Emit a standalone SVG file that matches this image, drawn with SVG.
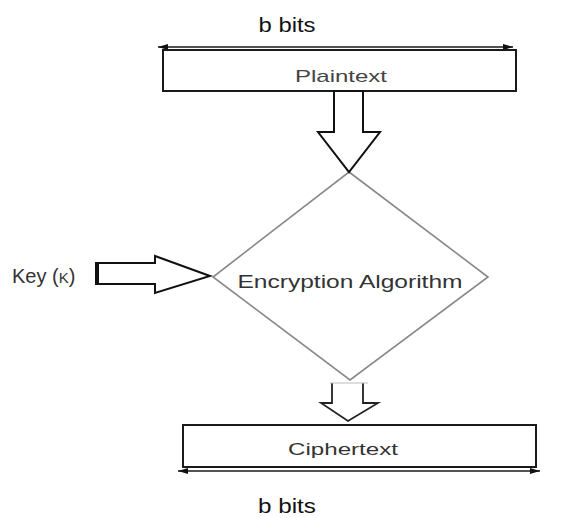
<svg xmlns="http://www.w3.org/2000/svg" width="563" height="518" viewBox="0 0 563 518">
  <style>
    .lbl { font-family: "Liberation Sans", Arial, sans-serif; }
    .box { fill: #fff; stroke: #1a1a1a; stroke-width: 2; }
    .dim { stroke: #1a1a1a; stroke-width: 1.6; fill: none; }
    .fat { fill: #fff; stroke: #111; stroke-width: 2; stroke-linejoin: miter; }
  </style>
  <defs>
    <marker id="tip" viewBox="0 0 10 6" refX="10" refY="3" markerWidth="10" markerHeight="6" markerUnits="userSpaceOnUse" orient="auto-start-reverse">
      <path d="M0,0 L10,3 L0,6 Z" fill="#111"/>
    </marker>
  </defs>
  <rect width="563" height="518" fill="#fff"/>

  <!-- width dimensions -->
  <g id="width-top">
    <text class="lbl" x="287" y="32" font-size="21" fill="#111" text-anchor="middle" textLength="57" lengthAdjust="spacingAndGlyphs">b bits</text>
    <line class="dim" x1="158" y1="47" x2="513" y2="47" marker-start="url(#tip)" marker-end="url(#tip)"/>
  </g>

  <g id="plaintext">
    <rect class="box" x="163" y="50" width="353" height="41"/>
    <text class="lbl" x="341" y="82" font-size="17" fill="#444" text-anchor="middle" textLength="92" lengthAdjust="spacingAndGlyphs">Plaintext</text>
  </g>

  <g id="algorithm">
    <polygon points="349,172 488,277 350,380 213,277" fill="#fff" stroke="#888" stroke-width="1.6"/>
    <text class="lbl" x="350" y="288" font-size="18" fill="#333" text-anchor="middle" textLength="225" lengthAdjust="spacingAndGlyphs">Encryption Algorithm</text>
  </g>

  <g id="key">
    <text class="lbl" x="12" y="283" font-size="20" fill="#333">Key (<tspan font-size="15">K</tspan>)</text>
  </g>

  <g id="ciphertext">
    <rect class="box" x="183" y="425" width="353" height="42"/>
    <text class="lbl" x="343" y="455" font-size="17" fill="#333" text-anchor="middle" textLength="110" lengthAdjust="spacingAndGlyphs">Ciphertext</text>
  </g>

  <g id="width-bottom">
    <line class="dim" x1="178" y1="471" x2="540" y2="471" marker-start="url(#tip)" marker-end="url(#tip)"/>
    <text class="lbl" x="287" y="513" font-size="21" fill="#111" text-anchor="middle" textLength="58" lengthAdjust="spacingAndGlyphs">b bits</text>
  </g>

  <!-- block arrows between the stages -->
  <g id="connectors">
    <polygon class="fat" points="334,91 334,132 318,132 349,172 380,132 363,132 363,91"/>
    <polygon class="fat" points="97,263 155,263 155,256 210,276 155,293 155,284 97,284"/>
    <line x1="97" y1="262" x2="97" y2="285" stroke="#111" stroke-width="4"/>
    <polyline points="332,383 332,403 321,403 348,421 378,403 363,403 363,383" fill="#fff" stroke="#222" stroke-width="1.8"/>
    <line x1="330" y1="383" x2="368" y2="383" stroke="#bbb" stroke-width="1.2"/>
  </g>
</svg>
